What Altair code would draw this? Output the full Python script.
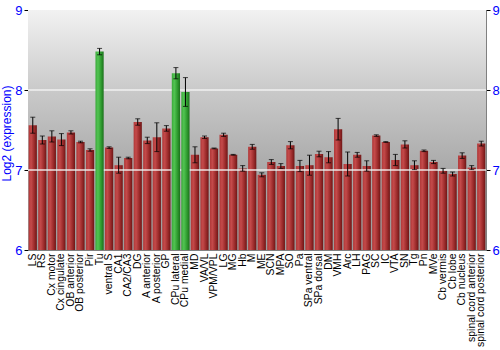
import altair as alt
import pandas as pd

regions = ["LS", "RS", "Cx motor", "Cx cingulate", "OB anterior", "OB posterior", "Pir", "Tu",
           "ventral S", "CA1", "CA2/CA3", "DG", "A anterior", "A posterior", "GP", "CPu lateral",
           "CPu medial", "MD", "VA/VL", "VPM/VPL", "LG", "MG", "Hb", "M", "ME", "SCN", "MPA", "SO",
           "Pa", "SPa ventral", "SPa dorsal", "DM", "VMH", "Arc", "LH", "PAG", "SC", "IC", "VTA",
           "SN", "Tg", "Pn", "MVe", "Cb vermis", "Cb lobe", "Cb nucleus", "spinal cord anterior",
           "spinal cord posterior"]
values = [7.56, 7.375, 7.42, 7.38, 7.47, 7.35, 7.25, 8.48,
          7.28, 7.06, 7.15, 7.60, 7.37, 7.41, 7.52, 8.21,
          7.975, 7.19, 7.41, 7.27, 7.44, 7.19, 7.02, 7.29, 6.94, 7.10, 7.05, 7.31,
          7.05, 7.06, 7.20, 7.16, 7.51, 7.075, 7.19, 7.05, 7.43, 7.35, 7.125,
          7.32, 7.06, 7.24, 7.10, 6.99, 6.95, 7.18, 7.03,
          7.33]
errors = [0.10, 0.05, 0.07, 0.075, 0.02, 0.01, 0.015, 0.04,
          0.01, 0.10, 0.01, 0.04, 0.04, 0.18, 0.035, 0.07,
          0.18, 0.10, 0.015, 0.005, 0.02, 0.005, 0.035, 0.03, 0.025, 0.03, 0.03, 0.045,
          0.07, 0.125, 0.035, 0.07, 0.135, 0.15, 0.03, 0.065, 0.01, 0.005, 0.07,
          0.045, 0.055, 0.01, 0.02, 0.03, 0.025, 0.035, 0.025,
          0.03]
highlight = ["Tu", "CPu lateral", "CPu medial"]
y_ticks = [6, 7, 8, 9]
grid_values = [7, 8]

df = pd.DataFrame({"region": regions, "value": values, "err": errors})
df["lo"] = df["value"] - df["err"]
df["hi"] = df["value"] + df["err"]
df["base"] = 6
df["hl"] = df["region"].isin(highlight)

W, H = 458, 240
BLUE = "#0000ff"
FONT = "Liberation Sans"

yscale = alt.Scale(domain=[6, 9], nice=False, zero=False)
xenc = alt.X("region:N", sort=regions,
             scale=alt.Scale(paddingInner=0.14, paddingOuter=0.07),
             axis=alt.Axis(title=None, labelAngle=-90, labelAlign="right", labelBaseline="middle",
                           labelFontSize=10.4, labelFont=FONT, labelColor="#000000", ticks=False,
                           domainColor="#808080", labelPadding=3))

left_axis = alt.Axis(orient="left", values=y_ticks, format="d", grid=False,
                     labelColor=BLUE, labelFontSize=13, labelFont=FONT,
                     title="Log2 (expression)", titleColor=BLUE, titleFontSize=12,
                     titleFont=FONT, titleFontWeight="normal", titleAngle=-90,
                     titleX=-15, titleY=H / 2 + 3, titleBaseline="bottom", titleAlign="center",
                     tickColor="#000000", tickSize=4, domainColor="#808080", labelPadding=2)
right_axis = alt.Axis(orient="right", values=y_ticks, format="d", grid=False, title=None,
                      labelColor=BLUE, labelFontSize=13, labelFont=FONT,
                      tickColor="#000000", tickSize=4, domainColor="#808080", labelPadding=2)

bg = alt.Chart(alt.Data(values=[{}])).mark_rect(
    fill=alt.Gradient(gradient="linear", x1=0, x2=0, y1=0, y2=1,
                      stops=[alt.GradientStop(color="#f2f2f2", offset=0),
                             alt.GradientStop(color="#c8c8c8", offset=0.35),
                             alt.GradientStop(color="#a6a6a6", offset=0.7),
                             alt.GradientStop(color="#9c9c9c", offset=1)])
).encode(x=alt.value(0), x2=alt.value(W), y=alt.value(0), y2=alt.value(H))

grid = alt.Chart(pd.DataFrame({"g": grid_values})).mark_rule(
    color="#f4f4f4", strokeWidth=1.5, opacity=0.9
).encode(y=alt.Y("g:Q", scale=yscale, axis=right_axis))

red_fill = alt.Gradient(gradient="linear", x1=0, x2=1, y1=0, y2=0,
                        stops=[alt.GradientStop(color="#b03838", offset=0),
                               alt.GradientStop(color="#c44a4a", offset=0.3),
                               alt.GradientStop(color="#9a2a2a", offset=0.7),
                               alt.GradientStop(color="#6e1616", offset=1)])
green_fill = alt.Gradient(gradient="linear", x1=0, x2=1, y1=0, y2=0,
                          stops=[alt.GradientStop(color="#3aa83a", offset=0),
                                 alt.GradientStop(color="#52c452", offset=0.3),
                                 alt.GradientStop(color="#2e9a2e", offset=0.7),
                                 alt.GradientStop(color="#1c701c", offset=1)])

base = alt.Chart(df)
bars_red = base.transform_filter("!datum.hl").mark_bar(fill=red_fill).encode(
    x=xenc, y=alt.Y("value:Q", scale=yscale, axis=left_axis), y2="base:Q")
bars_green = base.transform_filter("datum.hl").mark_bar(fill=green_fill).encode(
    x=xenc, y=alt.Y("value:Q", scale=yscale, axis=None), y2="base:Q")

err_rule = base.mark_rule(color="#000000", strokeWidth=1).encode(
    x=xenc, y=alt.Y("lo:Q", scale=yscale, axis=None), y2="hi:Q")
cap_lo = base.mark_tick(color="#000000", size=5, thickness=1).encode(
    x=xenc, y=alt.Y("lo:Q", scale=yscale, axis=None))
cap_hi = base.mark_tick(color="#000000", size=5, thickness=1).encode(
    x=xenc, y=alt.Y("hi:Q", scale=yscale, axis=None))

chart = alt.layer(bg, bars_red, grid, bars_green, err_rule, cap_lo, cap_hi).resolve_axis(
    y="independent"
).properties(
    width=W, height=H, autosize="none",
    padding={"left": 28, "top": 10, "right": 14, "bottom": 100},
    background="#ffffff"
).configure_view(stroke="#808080", strokeWidth=1)

chart.save("out.html", embed_options={"renderer": "svg", "actions": False})
